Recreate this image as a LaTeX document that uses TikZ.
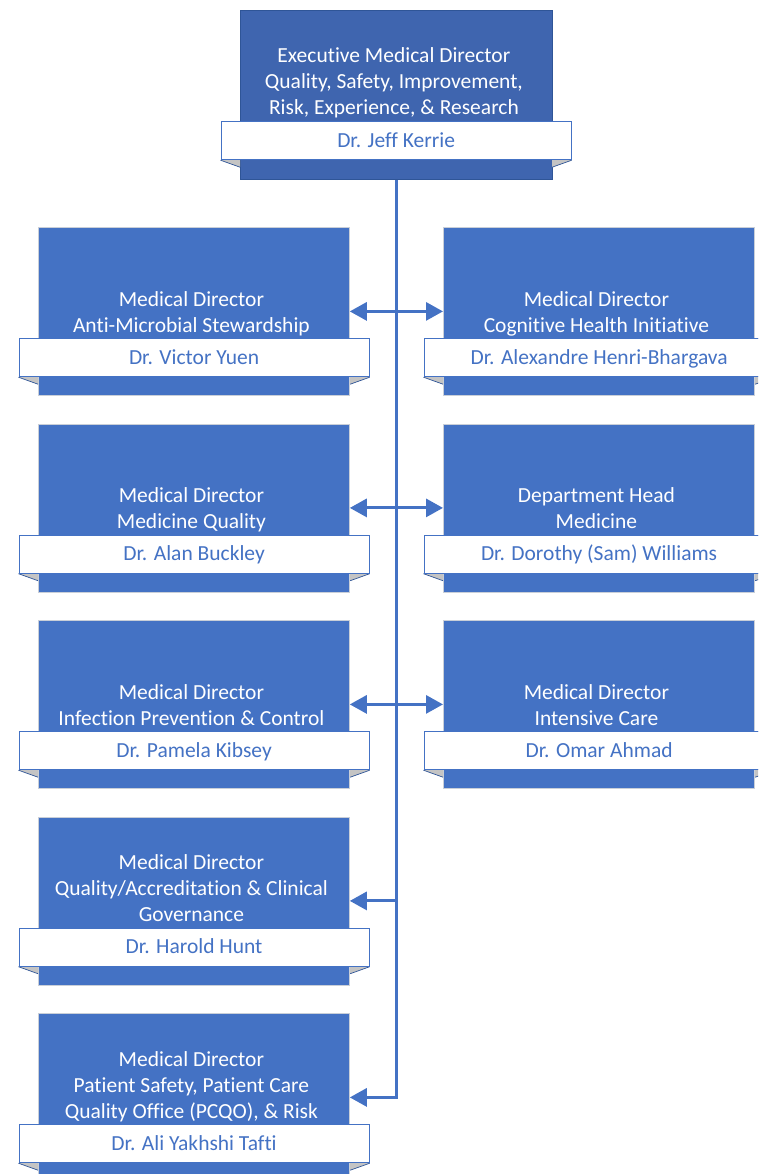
\documentclass[tikz,border=0pt]{standalone}
\usepackage{fontspec}
\setmainfont{Carlito}[Ligatures=NoCommon]
\usetikzlibrary{arrows.meta,calc}
\definecolor{boxblue}{HTML}{4472C4}
\definecolor{topblue}{HTML}{3F65AF}
\definecolor{topedge}{HTML}{2F5597}
\definecolor{edgegray}{HTML}{C9CFD8}
\definecolor{foldgray}{HTML}{C4C4C4}
\definecolor{foldedge}{HTML}{2F5597}
\definecolor{linkblue}{HTML}{4472C4}
\tikzset{
  rolebox/.style={fill=boxblue, draw=edgegray, line width=0.8pt, minimum width=311pt, minimum height=168pt, inner sep=0pt, anchor=north west},
  topbox/.style={rolebox, fill=topblue, draw=topedge, minimum width=312pt, minimum height=169pt},
  bandbox/.style={fill=white, draw=boxblue, line width=1.2pt, minimum width=350pt, minimum height=38pt, inner sep=0pt, anchor=north west},
  titletext/.style={text=white, align=center, inner sep=0pt, font=\fontsize{21.5}{26}\selectfont},
  nametext/.style={text=boxblue, inner sep=0pt, anchor=base, font=\fontsize{21.5}{26}\selectfont},
  conn/.style={draw=linkblue, line width=3pt},
  >={Triangle[length=17pt,width=18pt]}
}
% #1 style, #2 name, #3 box left x, #4 box top y, #5 title, #6 person, #7 title centre offset
\newcommand\orgbox[7][rolebox]{%
  \node[#1] (#2) at (#3,#4) {};
  \node[titletext] (#2-t) at ($(#2.north)+(-2.5,#7)$) {#5};
  \node[bandbox] (#2-b) at ($(#2.north west)+(-19.5,111)$) {};
  \fill[foldgray] (#2-b.south west) -- ++(19.5,0) -- ++(0,7) -- cycle;
  \draw[foldedge, line width=0.7pt] (#2-b.south west) -- ++(19.5,7);
  \fill[foldgray] (#2-b.south east) -- ++(-19.5,0) -- ++(0,7) -- cycle;
  \draw[foldedge, line width=0.7pt] (#2-b.south east) -- ++(-19.5,7);
  \node[bandbox] (#2-b) at ($(#2.north west)+(-19.5,111)$) {};
  \node[nametext] (#2-n) at ($(#2-b.center)+(0,6.8)$) {#6};
}
\begin{document}
\begin{tikzpicture}[x=1pt,y=-1pt]
\useasboundingbox (0,0) rectangle (758,1174);
\clip (0,0) rectangle (758,1174);
\def\S{\strut}
\orgbox[topbox]{top}{240}{10}{\S Executive Medical Director\\\S Quality, Safety, Improvement,\\\S Risk, Experience, \& Research}{Dr. Jeff Kerrie}{73.8}
\orgbox{l1}{38}{227}{\S Medical Director\\\S Anti-Microbial Stewardship}{Dr. Victor Yuen}{86.8}
\orgbox{r1}{443}{227}{\S Medical Director\\\S Cognitive Health Initiative}{Dr. Alexandre Henri-Bhargava}{86.8}
\orgbox{l2}{38}{423.5}{\S Medical Director\\\S Medicine Quality}{Dr. Alan Buckley}{86.8}
\orgbox{r2}{443}{423.5}{\S Department Head\\\S Medicine}{Dr. Dorothy (Sam) Williams}{86.8}
\orgbox{l3}{38}{620}{\S Medical Director\\\S Infection Prevention \& Control}{Dr. Pamela Kibsey}{86.8}
\orgbox{r3}{443}{620}{\S Medical Director\\\S Intensive Care}{Dr. Omar Ahmad}{86.8}
\orgbox{l4}{38}{816.5}{\S Medical Director\\\S Quality/Accreditation \& Clinical\\\S Governance}{Dr. Harold Hunt}{73.8}
\orgbox{l5}{38}{1013}{\S Medical Director\\\S Patient Safety, Patient Care\\\S Quality Office (PCQO), \& Risk}{Dr. Ali Yakhshi Tafti}{73.8}
% connectors
\draw[conn, ->] (top.south) |- (l5.east);
\draw[conn, <->] (l1.east) -- (r1.west);
\draw[conn, <->] (l2.east) -- (r2.west);
\draw[conn, <->] (l3.east) -- (r3.west);
\draw[conn, ->] (l4.east -| top.south) -- (l4.east);
\end{tikzpicture}
\end{document}
